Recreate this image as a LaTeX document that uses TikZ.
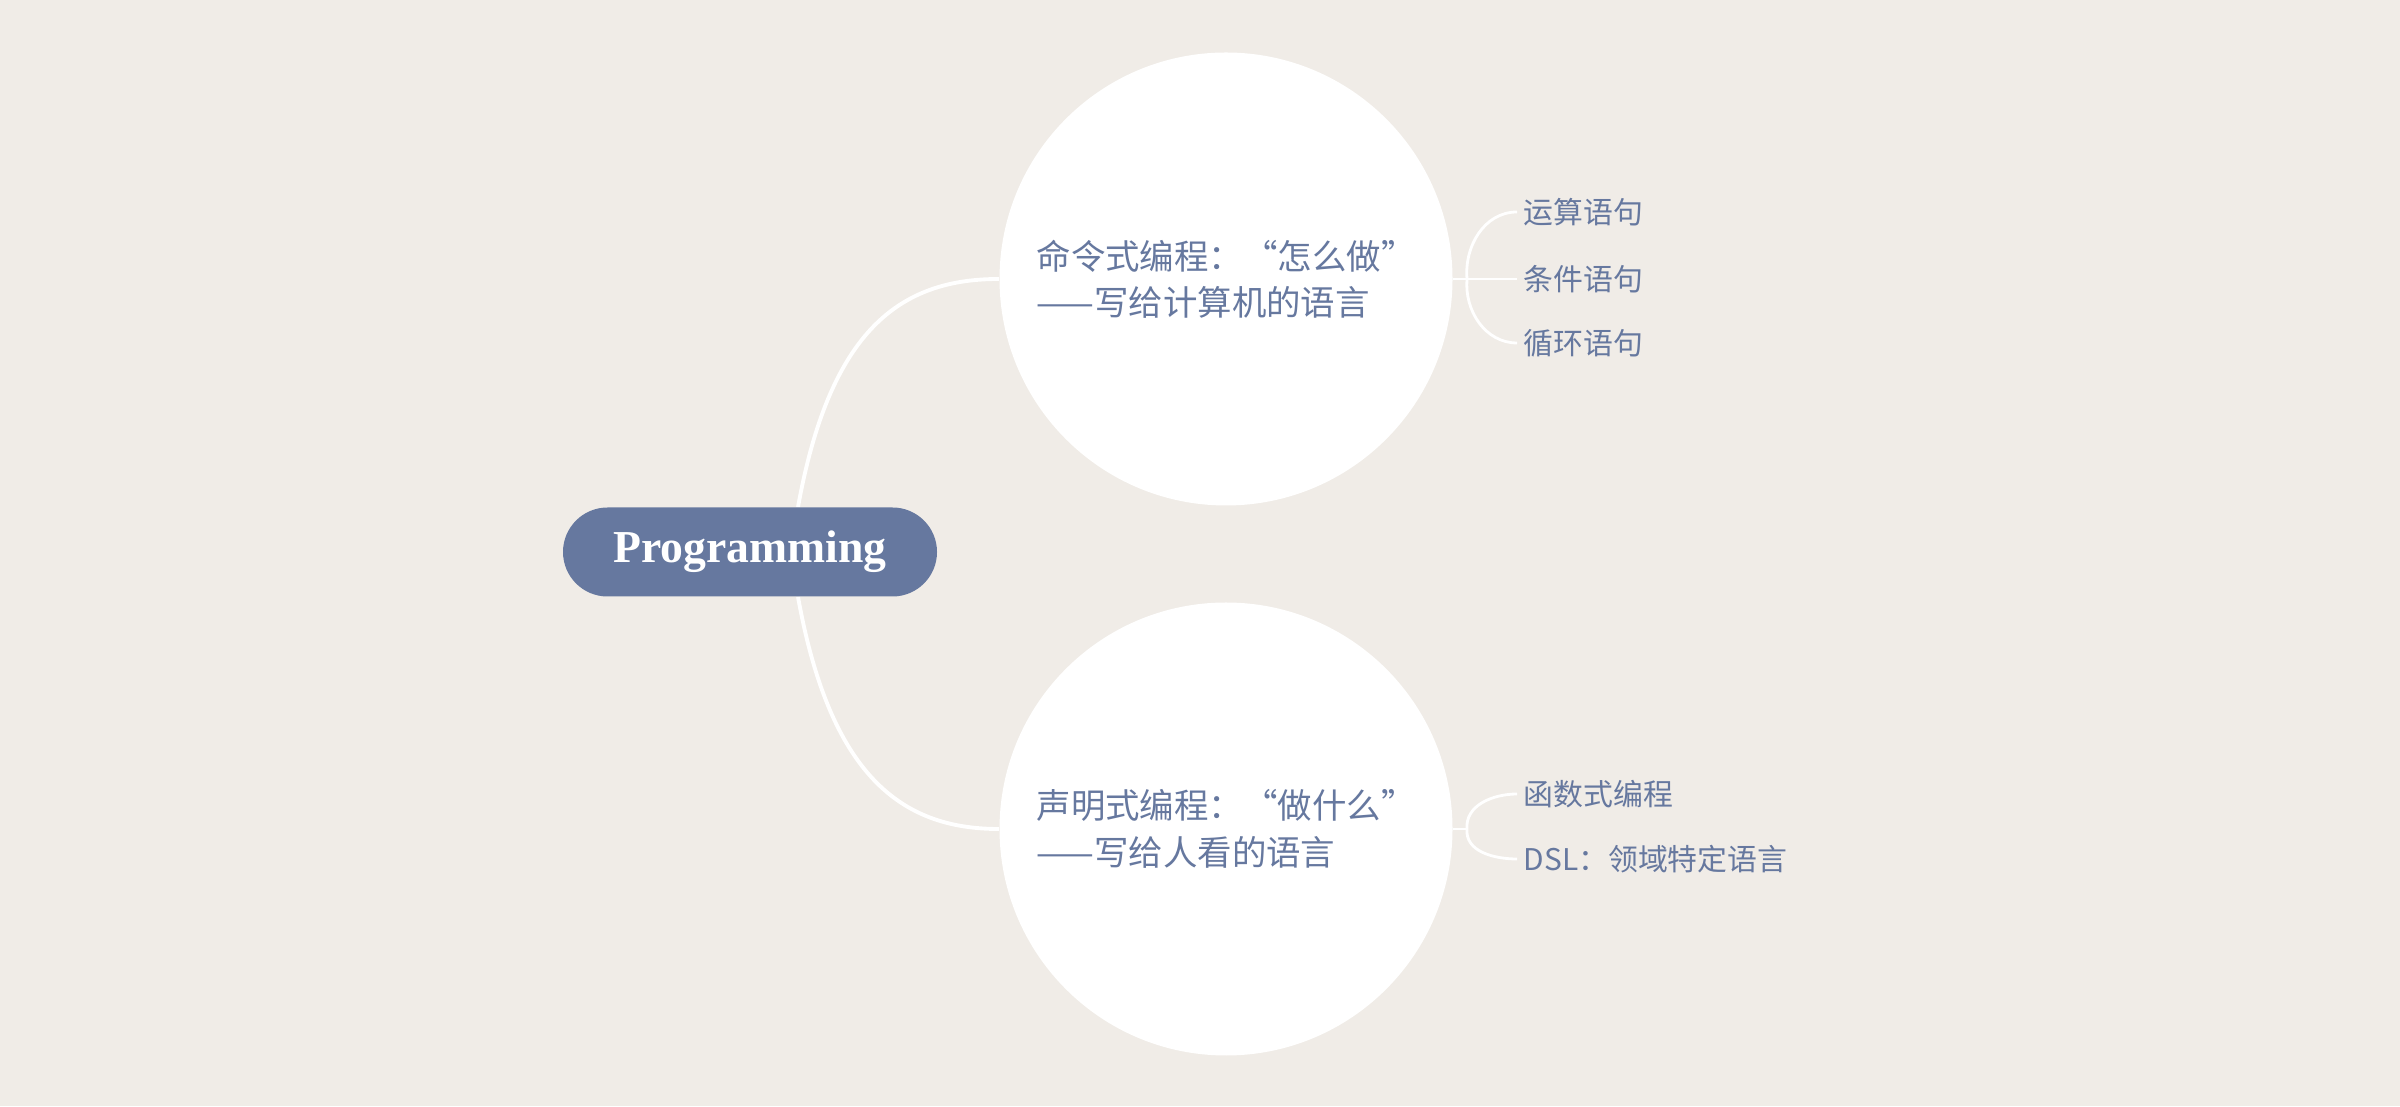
\documentclass[tikz,border=0pt]{standalone}
\usepackage{fontspec}
\setmainfont{Liberation Serif}
\newfontfamily\cjkfont{Noto Sans CJK SC}
\usetikzlibrary{positioning}
\definecolor{mybg}{RGB}{240,236,231}
\definecolor{myblue}{RGB}{102,120,159}

\begin{document}
\begin{tikzpicture}[
 rootbox/.style={fill=myblue, rounded corners=0.445cm, minimum width=3.74cm, minimum height=0.89cm, inner sep=0pt, text=white, font=\bfseries\fontsize{13}{15}\selectfont},
 bigcirc/.style={circle, fill=white, minimum size=4.53cm, inner sep=0pt, align=left, text=myblue, font=\cjkfont\fontsize{9.8}{13.2}\selectfont},
 leaf/.style={anchor=west, inner sep=0.06cm, text=myblue, font=\cjkfont\fontsize{8.5}{10}\selectfont},
 thickcon/.style={draw=white, line width=1.1pt},
 thincon/.style={draw=white, line width=0.8pt}
]

 \fill[mybg] (0,0) rectangle (24,11.06);

 %circles
 \node[bigcirc] (imp) at (12.26,8.27) {命令式编程：“怎么做”\\——写给计算机的语言};
 \node[bigcirc] (dec) at (12.26,2.77) {声明式编程：“做什么”\\——写给人看的语言};

 %root
 \coordinate (rootup) at (7.98,5.99);
 \coordinate (rootdown) at (7.98,5.09);
 \draw[thickcon] (rootup) .. controls (8.30,7.76) and (9.00,8.27) .. (imp.west);
 \draw[thickcon] (rootdown) .. controls (8.30,3.32) and (9.00,2.77) .. (dec.west);
 \node[rootbox] (root) at (7.50,5.54) {Programming};

 %leaves
 \node[leaf] (calc) at (15.17,8.94) {运算语句};
 \node[leaf] (cond) at (15.17,8.27) {条件语句};
 \node[leaf] (loop) at (15.17,7.63) {循环语句};
 \node[leaf] (func) at (15.17,3.12) {函数式编程};
 \node[leaf] (dsl) at (15.17,2.47) {DSL：领域特定语言};

 \coordinate (fork1) at (14.67,8.27);
 \coordinate (fork2) at (14.67,2.77);

 \draw[thincon] (imp.east) -- (cond.west);
 \draw[thincon] (fork1) to[out=95,in=180] (calc.west);
 \draw[thincon] (fork1) to[out=-95,in=180] (loop.west);

 \draw[thincon] (dec.east) -- (fork2);
 \draw[thincon] (fork2) to[out=95,in=180] (func.west);
 \draw[thincon] (fork2) to[out=-95,in=180] (dsl.west);

\end{tikzpicture}
\end{document}
